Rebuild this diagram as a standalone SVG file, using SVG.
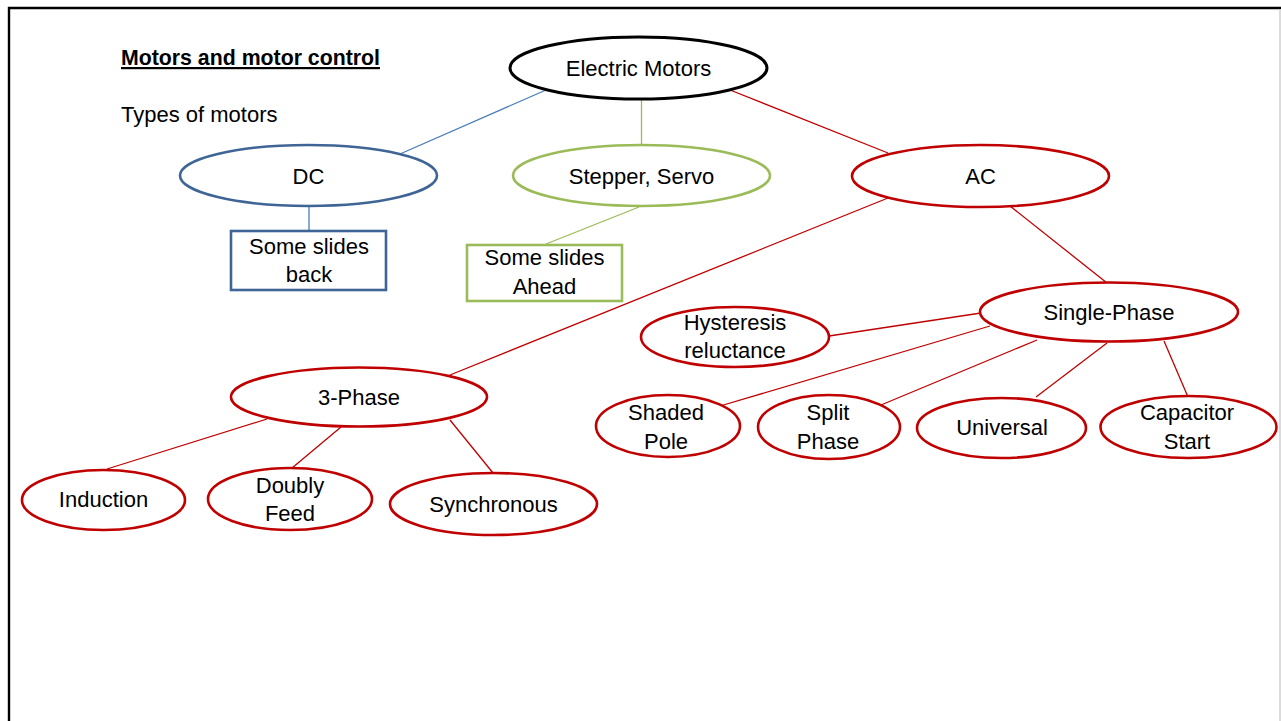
<svg xmlns="http://www.w3.org/2000/svg" width="1281" height="721" viewBox="0 0 1281 721">
<style>
text{font-family:"Liberation Sans",Arial,sans-serif;font-size:22px;fill:#000;text-anchor:middle}
.t{text-anchor:start}
.red{fill:#fff;stroke:#C00000;stroke-width:2.6}
.blue{fill:#fff;stroke:#3F6596;stroke-width:2.6}
.green{fill:#fff;stroke:#9BBB59;stroke-width:2.6}
.blk{fill:#fff;stroke:#000;stroke-width:3}
.lr{stroke:#C00000;stroke-width:1.3;fill:none}
.lb{stroke:#4A7EBB;stroke-width:1.3;fill:none}
.lg{stroke:#9BBB59;stroke-width:1.3;fill:none}
</style>
<rect x="0" y="0" width="1281" height="721" fill="#fff"/>
<path d="M9,721 V8 H1281" fill="none" stroke="#000" stroke-width="2.4"/>
<line x1="1280" y1="9" x2="1280" y2="721" stroke="#cfcfcf" stroke-width="1.5"/>
<g id="title">
<text class="t" x="121" y="65" font-weight="bold" font-size="21" textLength="259" lengthAdjust="spacingAndGlyphs" text-decoration="underline">Motors and motor control</text>
<text class="t" x="121" y="122">Types of motors</text>
</g>
<g id="connectors">
<line class="lb" x1="546" y1="90" x2="400" y2="154"/>
<line class="lg" x1="641.5" y1="99" x2="641.5" y2="145"/>
<line class="lr" x1="730" y1="90" x2="888" y2="153"/>
<line class="lb" x1="309" y1="206" x2="309" y2="231"/>
<line class="lg" x1="639" y1="207" x2="546" y2="244"/>
<line class="lr" x1="888" y1="198" x2="450" y2="375"/>
<line class="lr" x1="1010" y1="206" x2="1107" y2="283"/>
<line class="lr" x1="981" y1="313" x2="829" y2="336"/>
<line class="lr" x1="990" y1="326" x2="720" y2="406"/>
<line class="lr" x1="1037" y1="340" x2="881" y2="405"/>
<line class="lr" x1="1107" y1="343" x2="1036" y2="397"/>
<line class="lr" x1="1164" y1="341" x2="1188" y2="397"/>
<line class="lr" x1="267" y1="419" x2="107" y2="469"/>
<line class="lr" x1="341" y1="427" x2="292" y2="468"/>
<line class="lr" x1="450" y1="420" x2="493" y2="473"/>
</g>
<g id="electric-motors"><ellipse class="blk" cx="638.5" cy="68" rx="128.5" ry="31"/><text x="638.5" y="76">Electric Motors</text></g>
<g id="dc"><ellipse class="blue" cx="308.5" cy="175.5" rx="128.5" ry="30.5"/><text x="308.5" y="184">DC</text></g>
<g id="stepper-servo"><ellipse class="green" cx="641.5" cy="175.5" rx="128.5" ry="30.5"/><text x="641.5" y="184">Stepper, Servo</text></g>
<g id="ac"><ellipse class="red" cx="980.5" cy="176" rx="128.5" ry="31"/><text x="980.5" y="184">AC</text></g>
<g id="slides-back"><rect class="blue" x="231" y="231" width="155" height="59"/><text x="309" y="254">Some slides</text><text x="309" y="282">back</text></g>
<g id="slides-ahead"><rect class="green" x="467" y="245" width="155" height="56"/><text x="544.5" y="265">Some slides</text><text x="544.5" y="294">Ahead</text></g>
<g id="single-phase"><ellipse class="red" cx="1109" cy="312" rx="129" ry="29.5"/><text x="1109" y="320">Single-Phase</text></g>
<g id="hysteresis"><ellipse class="red" cx="735" cy="337" rx="94" ry="30"/><text x="735" y="330">Hysteresis</text><text x="735" y="358">reluctance</text></g>
<g id="shaded-pole"><ellipse class="red" cx="668" cy="426" rx="72" ry="31"/><text x="666" y="420">Shaded</text><text x="666" y="449">Pole</text></g>
<g id="split-phase"><ellipse class="red" cx="829" cy="427" rx="71" ry="32"/><text x="828" y="420">Split</text><text x="828" y="449">Phase</text></g>
<g id="universal"><ellipse class="red" cx="1001.5" cy="428" rx="84.5" ry="30"/><text x="1002" y="435">Universal</text></g>
<g id="capacitor-start"><ellipse class="red" cx="1188.5" cy="427" rx="88" ry="31"/><text x="1187" y="420">Capacitor</text><text x="1187" y="449">Start</text></g>
<g id="three-phase"><ellipse class="red" cx="359" cy="397" rx="128" ry="29.5"/><text x="359" y="405">3-Phase</text></g>
<g id="induction"><ellipse class="red" cx="103.5" cy="500" rx="81.5" ry="30"/><text x="103.5" y="507">Induction</text></g>
<g id="doubly-feed"><ellipse class="red" cx="290" cy="499" rx="82" ry="31"/><text x="290" y="493">Doubly</text><text x="290" y="521">Feed</text></g>
<g id="synchronous"><ellipse class="red" cx="493.5" cy="504" rx="103.5" ry="31"/><text x="493.5" y="512">Synchronous</text></g>
</svg>
